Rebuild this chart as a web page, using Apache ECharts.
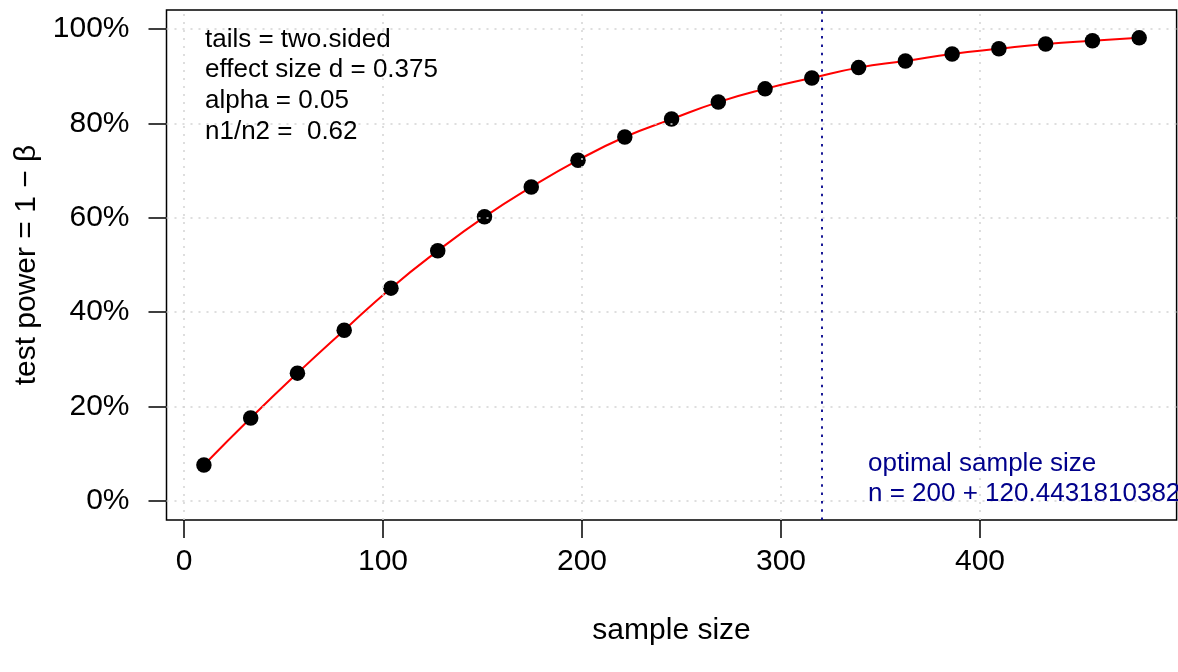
<!DOCTYPE html>
<html>
<head>
<meta charset="utf-8">
<script src="https://cdn.jsdelivr.net/npm/echarts@6/dist/echarts.min.js"></script>
<style>
html,body{margin:0;padding:0;background:#fff;}
#chart{width:1178px;height:672px;}
</style>
</head>
<body>
<div id="chart"></div>
<script>
// sample sizes (x) and test power in % (y)
var sampleSizes = [10, 33.5, 57, 80.5, 104, 127.5, 151, 174.5, 198, 221.5, 245, 268.5, 292, 315.5, 339, 362.5, 386, 409.5, 433, 456.5, 480];
var powerPct = [7.65, 17.6, 27.1, 36.2, 45.1, 53.0, 60.2, 66.5, 72.2, 77.1, 80.9, 84.5, 87.3, 89.6, 91.8, 93.2, 94.7, 95.8, 96.8, 97.5, 98.1];
var xTicks = [0, 100, 200, 300, 400];
var yTicks = [0, 20, 40, 60, 80, 100];
var xRange = [-8.8, 498.8];
var yRange = [-4, 104];
var optimalN = 320.443181038;
var infoLines = ['tails = two.sided', 'effect size d = 0.375', 'alpha = 0.05', 'n1/n2 =  0.62'];
var optLines = ['optimal sample size', 'n = 200 + 120.4431810382'];

var FONT = '"Liberation Sans", Arial, Helvetica, sans-serif';
var pts = sampleSizes.map(function (x, i) { return [x, powerPct[i]]; });

var chart = echarts.init(document.getElementById('chart'), null, {renderer: 'canvas'});
chart.setOption({
  animation: false,
  backgroundColor: '#fff',
  grid: {left: 166.5, right: 1.4, top: 10, bottom: 152, show: true, borderColor: '#000', borderWidth: 1.5, backgroundColor: 'transparent'},
  xAxis: {
    type: 'value', min: xRange[0], max: xRange[1],
    name: 'sample size', nameLocation: 'middle', nameGap: 96,
    nameTextStyle: {fontFamily: FONT, fontSize: 30, color: '#000'},
    axisLine: {show: false, onZero: false},
    axisTick: {show: true, customValues: xTicks, length: 18, lineStyle: {color: '#000', width: 1.5}},
    axisLabel: {customValues: xTicks, fontFamily: FONT, fontSize: 30, color: '#000', margin: 27},
    splitLine: {show: false}
  },
  yAxis: {
    type: 'value', min: yRange[0], max: yRange[1],
    name: 'test power = 1 \u2212 \u03b2', nameLocation: 'middle', nameGap: 118, nameRotate: 90,
    nameTextStyle: {fontFamily: FONT, fontSize: 30, color: '#000'},
    axisLine: {show: false, onZero: false},
    axisTick: {show: true, customValues: yTicks, length: 18, lineStyle: {color: '#000', width: 1.5}},
    axisLabel: {customValues: yTicks, fontFamily: FONT, fontSize: 30, color: '#000', margin: 37,
      formatter: function (v) { return v + '%'; }},
    splitLine: {show: false}
  },
  series: [
    {
      type: 'line', data: [], silent: true,
      markLine: {
        silent: true, symbol: 'none', label: {show: false}, animation: false,
        lineStyle: {color: '#d3d3d3', width: 1.5, type: [2, 6]},
        data: xTicks.map(function (v) { return {xAxis: v}; }).concat(yTicks.map(function (v) { return {yAxis: v}; }))
      }
    },
    {
      type: 'line', data: [], silent: true,
      markLine: {
        silent: true, symbol: 'none', label: {show: false}, animation: false,
        lineStyle: {color: '#00008b', width: 1.8, type: [2.5, 5.8]},
        data: [{xAxis: optimalN}]
      }
    },
    {
      type: 'line', data: pts, smooth: true, showSymbol: false, silent: true,
      lineStyle: {color: '#ff0000', width: 2}, z: 3
    },
    {
      type: 'scatter', data: pts, symbol: 'circle', symbolSize: 15.5, silent: true,
      itemStyle: {color: '#000', opacity: 1}, z: 4
    }
  ],
  graphic: [
    {type: 'text', left: 205, top: 24, z: 10, silent: true,
      style: {text: infoLines.join('\n'), font: '26px ' + FONT, fill: '#000', lineHeight: 30.7}},
    {type: 'text', left: 868, top: 448, z: 10, silent: true,
      style: {text: optLines.join('\n'), font: '26px ' + FONT, fill: '#00008b', lineHeight: 30.7}}
  ]
});
</script>
</body>
</html>
